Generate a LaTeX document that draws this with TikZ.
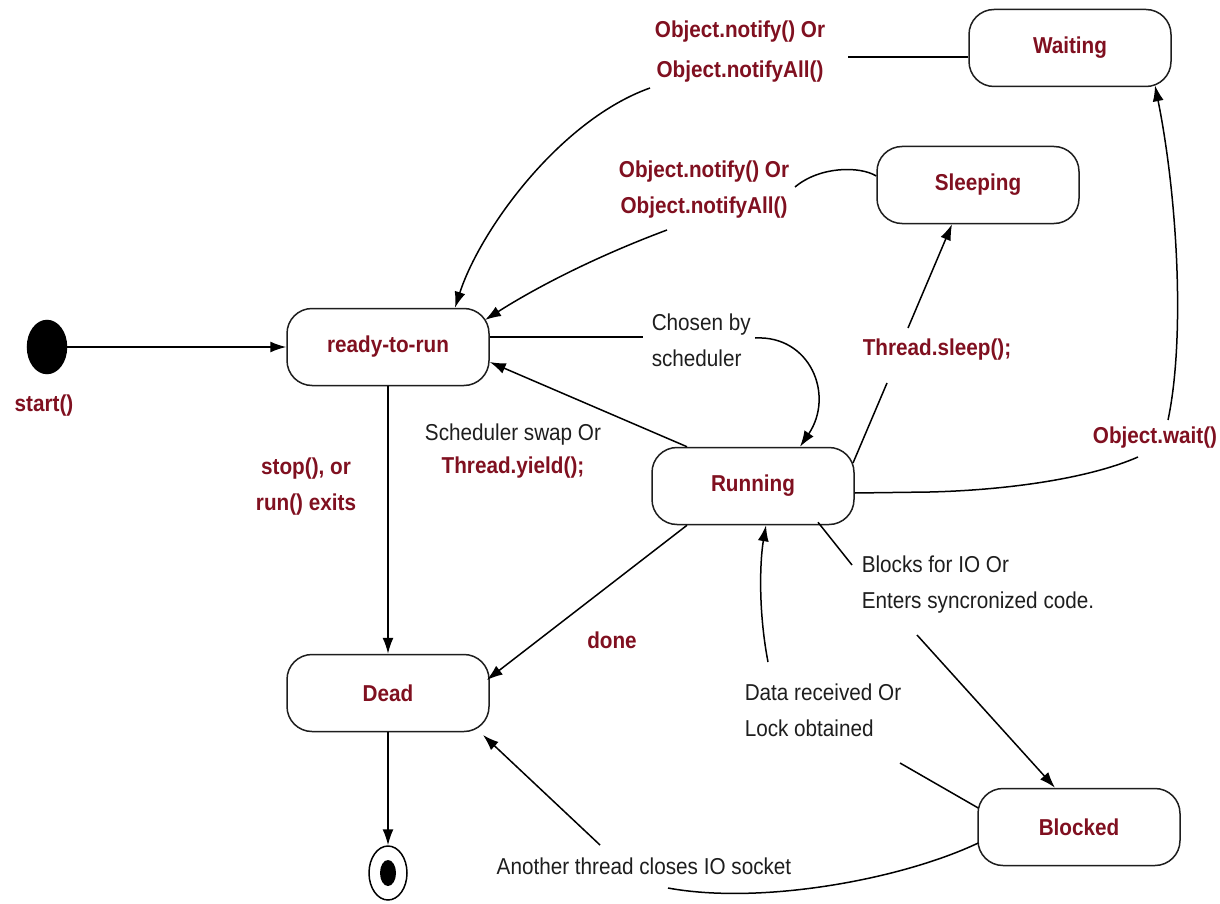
\documentclass[tikz,border=0pt]{standalone}
\usepackage{fontspec}
\setmainfont{Liberation Sans}[FakeStretch=0.9]
\usetikzlibrary{arrows.meta,calc,shapes.geometric}
\definecolor{lblred}{RGB}{128,16,32}
\definecolor{ink}{RGB}{30,30,30}
\begin{document}
\begin{tikzpicture}[x=1pt,y=-1pt,
  line width=1.5pt,
  every node/.style={font=\fontsize{23}{36}\selectfont},
  state/.style={draw=ink, rounded corners=25pt, minimum width=202pt,
    minimum height=77pt, inner sep=0pt, text=lblred, font=\fontsize{23}{36}\selectfont\bfseries},
  redlbl/.style={inner sep=0pt, text=lblred, font=\fontsize{23}{36}\selectfont\bfseries},
  blklbl/.style={inner sep=0pt, text=ink, font=\fontsize{23}{36}\selectfont},
  arr/.style={-{Latex[length=16pt,width=11pt]}},
  link/.style={draw=black}]

\path[fill=white, use as bounding box] (0,0) rectangle (1220,904);

% states
\node[state] (ready)    at (388,347)  {ready-to-run};
\node[state] (waiting)  at (1070,48)  {Waiting};
\node[state] (sleeping) at (978,185)  {Sleeping};
\node[state] (running)  at (753,486)  {Running};
\node[state] (dead)     at (388,693)  {Dead};
\node[state] (blocked)  at (1079,827) {Blocked};

% pseudo states
\node[ellipse, fill=black, draw=black, minimum width=39pt, minimum height=53pt, inner sep=0pt] (start) at (47,347) {};
\node[ellipse, draw=black, minimum width=38pt, minimum height=54pt, inner sep=0pt] (final) at (388,873) {};
\node[ellipse, fill=black, minimum width=16pt, minimum height=26pt, inner sep=0pt] (finaldot) at (final.center) {};

% gaps where the transition lines pass behind their labels
\coordinate (w1) at (848,57);   \coordinate (w2) at (650,88);
\coordinate (s1) at (795,187);  \coordinate (s2) at (667,230);
\coordinate (c1) at (643,337);  \coordinate (c2) at (755,338);
\coordinate (t1) at (887,383);  \coordinate (t2) at (908,328);
\coordinate (o1) at (1138,457); \coordinate (o2) at (1168,420);
\coordinate (b1) at (852,565);  \coordinate (b2) at (917,635);
\coordinate (d1) at (900,763);  \coordinate (d2) at (768,662);
\coordinate (a1) at (668,888);  \coordinate (a2) at (600,845);

% transitions
\draw[link,arr] (start) -- (ready);
\draw[link,arr] (ready) -- (dead);
\draw[link,arr] (dead) -- (final);

\draw[link] ($(waiting.west)+(0,9)$) -- (w1);
\draw[link,arr] (w2) .. controls (560,120) and (480,230) .. ($(ready.north)+(67,0)$);

\draw[link] ($(sleeping.west)+(0,-9)$) .. controls (860,166) and (820,166) .. (s1);
\draw[link,arr] (s2) .. controls (600,255) and (540,285) .. ($(ready.center)+(97,-27)$);

\draw[link] ($(ready.east)+(0,-10)$) -- (c1);
\draw[link,arr] (c2) .. controls (810,335) and (835,395) .. ($(running.north)+(47,0)$);

\draw[link,arr] ($(running.north)+(-66,0)$) -- ($(ready.east)+(0,15)$);

\draw[link] ($(running.center)+(100,-23)$) -- (t1);
\draw[link,arr] (t2) -- ($(sleeping.south)+(-26,0)$);

\draw[link] ($(running.east)+(0,7)$) -- ++(75,-1) .. controls (1010,490) and (1090,478) .. (o1);
\draw[link,arr] (o2) .. controls (1185,340) and (1178,200) .. ($(waiting.south)+(85,-2)$);

\draw[link,arr] ($(running.south)+(-66,0)$) -- ($(dead.east)+(-3,-13)$);

\draw[link] ($(running.south)+(65,-3)$) -- (b1);
\draw[link,arr] (b2) -- ($(blocked.north)+(-24,0)$);

\draw[link] ($(blocked.west)+(1,-19)$) -- (d1);
\draw[link,arr] (d2) .. controls (758,610) and (760,560) .. ($(running.south)+(13,0)$);

\draw[link] ($(blocked.west)+(1,16)$) .. controls (900,880) and (760,905) .. (a1);
\draw[link,arr] (a2) -- ($(dead.center)+(95,42)$);

% labels
\node[redlbl] (startlbl) at (44,406) {start()};
\node[redlbl, align=center] (notifyA) at (740,52) {Object.notify() Or\\[4pt]Object.notifyAll()};
\node[redlbl, align=center] (notifyB) at (704,190) {Object.notify() Or\\Object.notifyAll()};
\node[blklbl, align=left, anchor=west] (chosen) at (651,340) {Chosen by\\scheduler};
\node[blklbl, align=center] (swap) at (513,451) {Scheduler swap Or\\[-3pt]{\color{lblred}\bfseries Thread.yield();}};
\node[redlbl, align=center] (stoplbl) at (306,487) {stop(), or\\run() exits};
\node[redlbl] (sleeplbl) at (937,350) {Thread.sleep();};
\node[redlbl] (waitlbl) at (1155,438) {Object.wait()};
\node[redlbl] (donelbl) at (612,640) {done};
\node[blklbl, align=left, anchor=west] (blocks) at (861,585) {Blocks for IO Or\\Enters syncronized code.};
\node[blklbl, align=left, anchor=west] (datarecv) at (744,710) {Data received Or\\Lock obtained};
\node[blklbl] (another) at (644,866) {Another thread closes IO socket};
\end{tikzpicture}
\end{document}
